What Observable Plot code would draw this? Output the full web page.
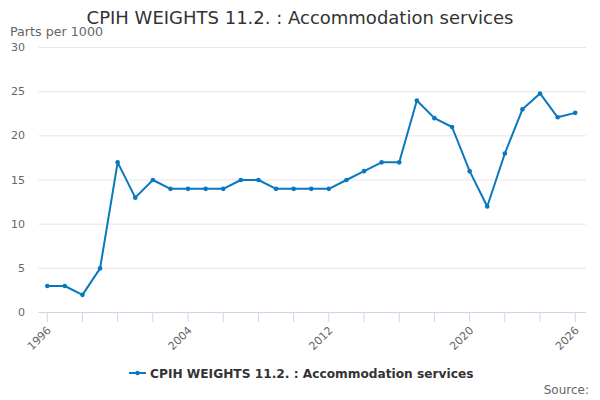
<!DOCTYPE html>
<html>
<head>
<meta charset="utf-8">
<script src="https://cdn.jsdelivr.net/npm/d3@7"></script>
<script src="https://cdn.jsdelivr.net/npm/@observablehq/plot@0.6"></script>
<style>
  html, body { margin: 0; padding: 0; background: #fff; }
  #chart svg { font-family: "DejaVu Sans", sans-serif; }
</style>
</head>
<body>
<div id="chart"></div>
<script>
const years = [1996,1997,1998,1999,2000,2001,2002,2003,2004,2005,2006,2007,2008,2009,2010,2011,2012,2013,2014,2015,2016,2017,2018,2019,2020,2021,2022,2023,2024,2025,2026];
const values = [3,3,2,5,17,13,15,14,14,14,14,15,15,14,14,14,14,15,16,17,17,24,22,21,16,12,18,23,24.8,22.1,22.6];
const yTicks = [0,5,10,15,20,25,30];
const xTicks = d3.range(1996, 2027, 2);
const xLabels = [1996, 2004, 2012, 2020, 2026];
const title = "CPIH WEIGHTS 11.2. : Accommodation services";
const yTitle = "Parts per 1000";
const seriesName = "CPIH WEIGHTS 11.2. : Accommodation services";
const sourceText = "Source:";

const data = years.map((y, i) => ({year: y, value: values[i]}));
const color = "#0a78be";

const chart = Plot.plot({
  width: 600,
  height: 400,
  marginTop: 47,
  marginBottom: 88,
  marginLeft: 38.5,
  marginRight: 14,
  style: {fontFamily: "DejaVu Sans, sans-serif", background: "#fff"},
  x: {domain: [1995.53, 2026.64]},
  y: {domain: [0, 30]},
  marks: [
    Plot.ruleY(yTicks.filter(d => d > 0), {stroke: "#e6e6e6", strokeWidth: 1}),
    Plot.ruleY([0], {stroke: "#ccd6eb", strokeWidth: 1}),
    Plot.axisY({ticks: yTicks, tickSize: 0, tickPadding: 14, fill: "#666", fontSize: 11, label: null}),
    Plot.axisX({ticks: xTicks, tickSize: 10, stroke: "#ccd6eb", text: null, label: null}),
    Plot.text(xLabels, {x: d => d, y: 0, text: d => String(d), rotate: -45, textAnchor: "end", dx: 2, dy: 16, fill: "#666", fontSize: 11}),
    Plot.line(data, {x: "year", y: "value", stroke: color, strokeWidth: 2}),
    Plot.dot(data, {x: "year", y: "value", fill: color, r: 2.3})
  ]
});

const svg = d3.select(chart);
svg.append("text").attr("x", 300).attr("y", 24).attr("text-anchor", "middle")
  .attr("font-size", 18).attr("fill", "#333").text(title);
svg.append("text").attr("x", 10).attr("y", 36).attr("text-anchor", "start")
  .attr("font-size", 12.7).attr("fill", "#666").text(yTitle);
const lg = svg.append("g");
lg.append("line").attr("x1", 129).attr("x2", 146).attr("y1", 373).attr("y2", 373)
  .attr("stroke", color).attr("stroke-width", 2);
lg.append("circle").attr("cx", 137.5).attr("cy", 373).attr("r", 2.2).attr("fill", color);
lg.append("text").attr("x", 150).attr("y", 377.5).attr("text-anchor", "start").attr("font-size", 12.2).attr("font-weight", "bold")
  .attr("fill", "#333").text(seriesName);
svg.append("text").attr("x", 589).attr("y", 394).attr("text-anchor", "end")
  .attr("font-size", 12).attr("fill", "#666").text(sourceText);

document.getElementById("chart").appendChild(chart);
</script>
</body>
</html>
